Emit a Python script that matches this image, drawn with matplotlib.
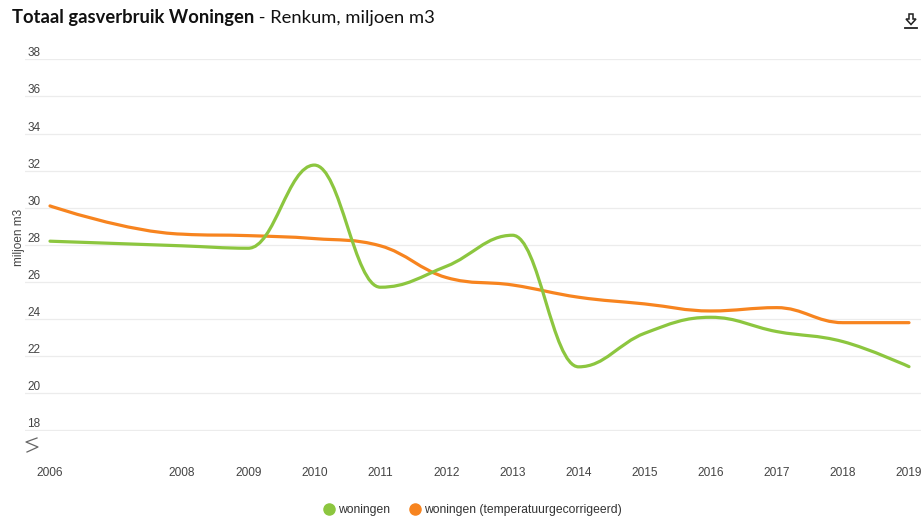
import matplotlib
matplotlib.use('Agg')
import matplotlib.pyplot as plt
from matplotlib.path import Path
from matplotlib.patches import PathPatch, Polygon
from matplotlib.lines import Line2D

# data (miljoen m3)
years = [2006, 2008, 2009, 2010, 2011, 2012, 2013, 2014, 2015, 2016, 2017, 2018, 2019]
woningen = [28.2, 27.95, 27.82, 32.3, 25.72, 26.85, 28.52, 21.43, 23.24, 24.1, 23.33, 22.79, 21.44]
woningen_temp = [30.1, 28.58, 28.5, 28.34, 27.95, 26.24, 25.84, 25.18, 24.82, 24.44, 24.62, 23.81, 23.81]
yticks = list(range(18, 39, 2))

GREEN = '#8cc63f'
ORANGE = '#f7841f'
TXT = '#444444'

W, H = 921, 518


def spline_path(xs, ys, smoothing=1.5):
    #-> Highcharts style spline: bezier control points per point
    denom = smoothing + 1
    verts = [(xs[0], ys[0])]
    codes = [Path.MOVETO]
    last_right = (xs[0], ys[0])
    n = len(xs)
    for i in range(1, n):
        px, py = xs[i], ys[i]
        left = (px, py)
        right = None
        if i < n - 1:
            lx, ly = xs[i - 1], ys[i - 1]
            nx, ny = xs[i + 1], ys[i + 1]
            lcx = (smoothing * px + lx) / denom
            lcy = (smoothing * py + ly) / denom
            rcx = (smoothing * px + nx) / denom
            rcy = (smoothing * py + ny) / denom
            corr = 0
            if rcx != lcx:
                corr = (rcy - lcy) * (rcx - px) / (rcx - lcx) + py - rcy
            lcy += corr
            rcy += corr
            if lcy > ly and lcy > py:
                lcy = max(ly, py)
                rcy = 2 * py - lcy
            elif lcy < ly and lcy < py:
                lcy = min(ly, py)
                rcy = 2 * py - lcy
            if rcy > ny and rcy > py:
                rcy = max(ny, py)
                lcy = 2 * py - rcy
            elif rcy < ny and rcy < py:
                rcy = min(ny, py)
                lcy = 2 * py - rcy
            left = (lcx, lcy)
            right = (rcx, rcy)
        verts += [last_right, left, (px, py)]
        codes += [Path.CURVE4] * 3
        last_right = right if right is not None else (px, py)
    return Path(verts, codes)


fig = plt.figure(figsize=(W / 100, H / 100), dpi=100)
ax_left, ax_right = 25, 921
ax_top, ax_bot = 59.3, 430.5
ax = fig.add_axes([ax_left / W, 1 - ax_bot / H, (ax_right - ax_left) / W, (ax_bot - ax_top) / H])

px_per_year = (909 - 50) / 13
ax.set_xlim(2006 - (50 - ax_left) / px_per_year, 2019 + (ax_right - 909) / px_per_year)
ax.set_ylim(18, 38)

for s in ax.spines.values():
    s.set_visible(False)
ax.set_yticks(yticks)
ax.set_yticklabels([str(v) for v in yticks])
ax.set_xticks(years)
ax.set_xticklabels([str(y) for y in years])
ax.grid(axis='y', color='#ececec', linewidth=0.9)
ax.set_axisbelow(True)
ax.tick_params(axis='y', length=0, pad=-1.5, labelsize=8.5, labelcolor=TXT)
ax.tick_params(axis='x', length=0, pad=26, labelsize=8.6, labelcolor=TXT)
for t in ax.get_yticklabels():
    t.set_horizontalalignment('left')
    t.set_verticalalignment('bottom')
for t in ax.get_yticklabels() + ax.get_xticklabels():
    t.set_fontfamily('Liberation Sans')

ax.set_ylabel('miljoen m3', fontsize=8.5, color=TXT, family='Liberation Sans')
ax.yaxis.set_label_coords((25 - ax_left) / (ax_right - ax_left), 0.52)

ax.add_patch(PathPatch(spline_path(years, woningen_temp), fill=False, edgecolor=ORANGE,
                       lw=2.3, capstyle='round', joinstyle='round'))
ax.add_patch(PathPatch(spline_path(years, woningen), fill=False, edgecolor=GREEN,
                       lw=2.3, capstyle='round', joinstyle='round'))

# legend
handles = [Line2D([], [], marker='o', ls='none', color=GREEN, markersize=8),
           Line2D([], [], marker='o', ls='none', color=ORANGE, markersize=8)]
leg = fig.legend(handles, ['woningen', 'woningen (temperatuurgecorrigeerd)'],
                 loc='center', bbox_to_anchor=(473 / W, 1 - 510 / H), ncol=2, frameon=False,
                 handlelength=0.8, handletextpad=0.4, columnspacing=1.6,
                 prop={'family': 'Liberation Sans', 'size': 8.7})
for t in leg.get_texts():
    t.set_color('#333333')

# axis break symbol
fig.add_artist(Line2D([37 / W, 26 / W, 38 / W, 27 / W],
                      [1 - 438 / H, 1 - 442 / H, 1 - 447 / H, 1 - 452 / H],
                      color='#666666', lw=0.9))

# title
t1 = fig.text(12 / W, 1 - 18 / H, 'Totaal gasverbruik Woningen', fontsize=13.2, fontweight='bold',
              family='Lato', va='center', color='#111111')
fig.canvas.draw()
bb = t1.get_window_extent(fig.canvas.get_renderer())
fig.text(bb.x1 / W, 1 - 18 / H, ' - Renkum, miljoen m3', fontsize=13.2, family='Lato',
         va='center', color='#111111')

# download icon
arrow = [(909, 14), (913, 14), (913, 19), (916, 19), (911, 24.5), (906, 19), (909, 19)]
fig.add_artist(Polygon([(x / W, 1 - y / H) for x, y in arrow], closed=True, fill=False,
                       edgecolor='#222222', lw=1.1))
fig.add_artist(Line2D([905 / W, 917 / W], [1 - 27.5 / H, 1 - 27.5 / H], color='#222222', lw=1.3))

fig.savefig('out.png', dpi=100)
